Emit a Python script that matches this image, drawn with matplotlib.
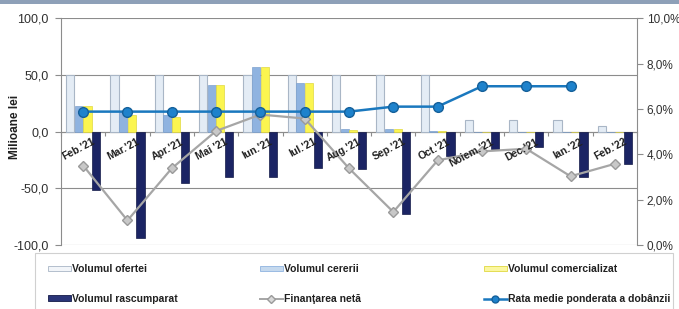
import matplotlib
matplotlib.use('Agg')
import matplotlib.pyplot as plt
import matplotlib.transforms as mtransforms
from matplotlib.patches import Rectangle, Patch
from matplotlib.lines import Line2D
import numpy as np

plt.rcParams['font.family'] = ['Liberation Sans', 'DejaVu Sans']

# ---- data ----
months = ["Feb.'21", "Mar.'21", "Apr.'21", "Mai '21", "Iun.'21", "Iul.'21", "Aug.'21",
          "Sep.'21", "Oct.'21", "Noiem.'21", "Dec.'21", "Ian.'22", "Feb.'22"]
oferta = [50, 50, 50, 50, 50, 50, 50, 50, 50, 10, 10, 10, 5]
cereri = [23, 17.5, 15, 41, 57, 43, 2.5, 2.5, 0.5, 0, 0, 0, 0]
comercializat = [23, 15, 13, 41, 57, 43, 1.5, 2.5, 0.3, 0, 0, 0, 0]
rascumparat = [-52, -94, -45.5, -40, -40, -32, -33.2, -72.6, -22, -15, -13.5, -40, -28.5]
finantare = [-30, -78.5, -32.5, 0.5, 15, 11.5, -32.5, -71, -25.5, -17.5, -15.2, -39.5, -28.5]
rata = [5.88, 5.88, 5.88, 5.88, 5.88, 5.88, 5.88, 6.1, 6.1, 7.0, 7.0, 7.0, np.nan]

C_OFERTA = '#e4ecf5'
C_CERERI = '#8fb3e0'
C_COMERC = '#fbf550'
C_RASC = '#1b2464'
C_FIN = '#a6a6a6'
C_RATA = '#1a78be'
GRID = '#8c8c8c'
TXT = '#303030'

W, H = 679, 309
fig = plt.figure(figsize=(W / 100, H / 100), dpi=100)
ax = fig.add_axes([61 / W, (H - 244.8) / H, 576 / W, (244.8 - 18.3) / H])
ax2 = ax.twinx()

x = np.arange(len(months))
bw = 0.185
step = 0.195

ax.bar(x - 1.5 * step, oferta, bw, color=C_OFERTA, edgecolor='#a9b6c6', linewidth=0.8, zorder=3)
ax.bar(x - 0.5 * step, cereri, bw, color=C_CERERI, edgecolor='#7ea2cf', linewidth=0.5, zorder=3)
ax.bar(x + 0.5 * step, comercializat, bw, color=C_COMERC, edgecolor='#e0d840', linewidth=0.5, zorder=3)
ax.bar(x + 1.5 * step, rascumparat, bw, color=C_RASC, edgecolor='#141a48', linewidth=0.5, zorder=3)
ax.plot(x, finantare, '-D', color=C_FIN, lw=1.6, markersize=5,
        markerfacecolor='#c8c8c8', markeredgecolor='#9a9a9a', zorder=4)

ax2.plot(x, rata, '-o', color=C_RATA, lw=1.8, markersize=7,
         markerfacecolor='#1e82cc', markeredgecolor='#15609a', zorder=5)

# left axis
ax.set_xlim(-0.5, len(months) - 0.5)
ax.set_ylim(-100, 100)
ax.set_yticks([-100, -50, 0, 50, 100])
ax.set_yticklabels(['-100,0', '-50,0', '0,0', '50,0', '100,0'])
ax.yaxis.grid(True, color=GRID, lw=0.8, zorder=0)
ax.set_axisbelow(True)
ax.tick_params(axis='y', length=4, color=GRID, labelsize=9, labelcolor=TXT, pad=5)

# category axis sits on zero
ax.spines['bottom'].set_position(('data', 0))
ax.spines['bottom'].set_color(GRID)
ax.spines['left'].set_color(GRID)
ax.spines['top'].set_visible(False)
ax.spines['right'].set_visible(False)
ax.set_xticks(np.arange(-0.5, len(months), 1))
ax.set_xticklabels([])
ax.tick_params(axis='x', length=3, color=GRID, direction='out')

lab_tr = mtransforms.offset_copy(ax.transData, fig=fig, x=9, y=-5, units='dots')
for xi, m in zip(x, months):
    ax.text(xi, 0, m, transform=lab_tr, rotation=28, rotation_mode='anchor',
            ha='right', va='top', fontsize=7.5, fontweight='bold', color='#202020', zorder=6)

# right axis
ax2.set_ylim(0, 10)
ax2.set_yticks([0, 2, 4, 6, 8, 10])
ax2.set_yticklabels(['0,0%', '2,0%', '4,0%', '6,0%', '8,0%', '10,0%'])
ax2.tick_params(axis='y', length=4, color=GRID, labelsize=8.5, labelcolor=TXT, pad=3)
for s in ['top', 'left', 'bottom']:
    ax2.spines[s].set_visible(False)
ax2.spines['right'].set_color(GRID)

fig.text(15 / W, 1 - 127 / H, 'Milioane lei', rotation=90, ha='center', va='center',
         fontsize=8.5, fontweight='bold', color='#202020')

# top band and legend frame
fig.patches.append(Rectangle((0, 1 - 4 / H), 1, 4 / H, transform=fig.transFigure,
                             facecolor='#8ea0b8', edgecolor='none'))
fig.patches.append(Rectangle((35 / W, -0.01), (673 - 35) / W, (H - 253) / H + 0.01,
                             transform=fig.transFigure, facecolor='none',
                             edgecolor='#d0d0d0', lw=0.8))

h_of = Patch(facecolor='#f2f5f9', edgecolor='#a9b6c6', lw=0.6)
h_ce = Patch(facecolor='#c5d9ee', edgecolor='#8fb3e0', lw=0.6)
h_co = Patch(facecolor='#fbf7a0', edgecolor='#e0d840', lw=0.6)
h_ra = Patch(facecolor='#2a3578', edgecolor='#141a48', lw=0.6)
h_fi = Line2D([], [], color=C_FIN, lw=1.4, marker='D', markersize=4,
              markerfacecolor='#d8d8d8', markeredgecolor='#9a9a9a')
h_rt = Line2D([], [], color=C_RATA, lw=1.8, marker='o', markersize=5,
              markerfacecolor='#1e82cc', markeredgecolor='#15609a')

cols = [([h_of, h_ra], ['Volumul ofertei', 'Volumul rascumparat'], 48),
        ([h_ce, h_fi], ['Volumul cererii', 'Finanţarea netă'], 260),
        ([h_co, h_rt], ['Volumul comercializat', 'Rata medie ponderata a dobânzii'], 484)]
for hs, ls, px in cols:
    fig.legend(hs, ls, loc='upper left', bbox_to_anchor=(px / W, 1 - 264 / H),
               frameon=False, borderpad=0, borderaxespad=0, handlelength=2.2,
               handleheight=0.4, handletextpad=0.15, labelspacing=1.9,
               prop={'size': 7.5, 'weight': 'bold'}, labelcolor='#202020')

fig.savefig('out.png', dpi=100)
